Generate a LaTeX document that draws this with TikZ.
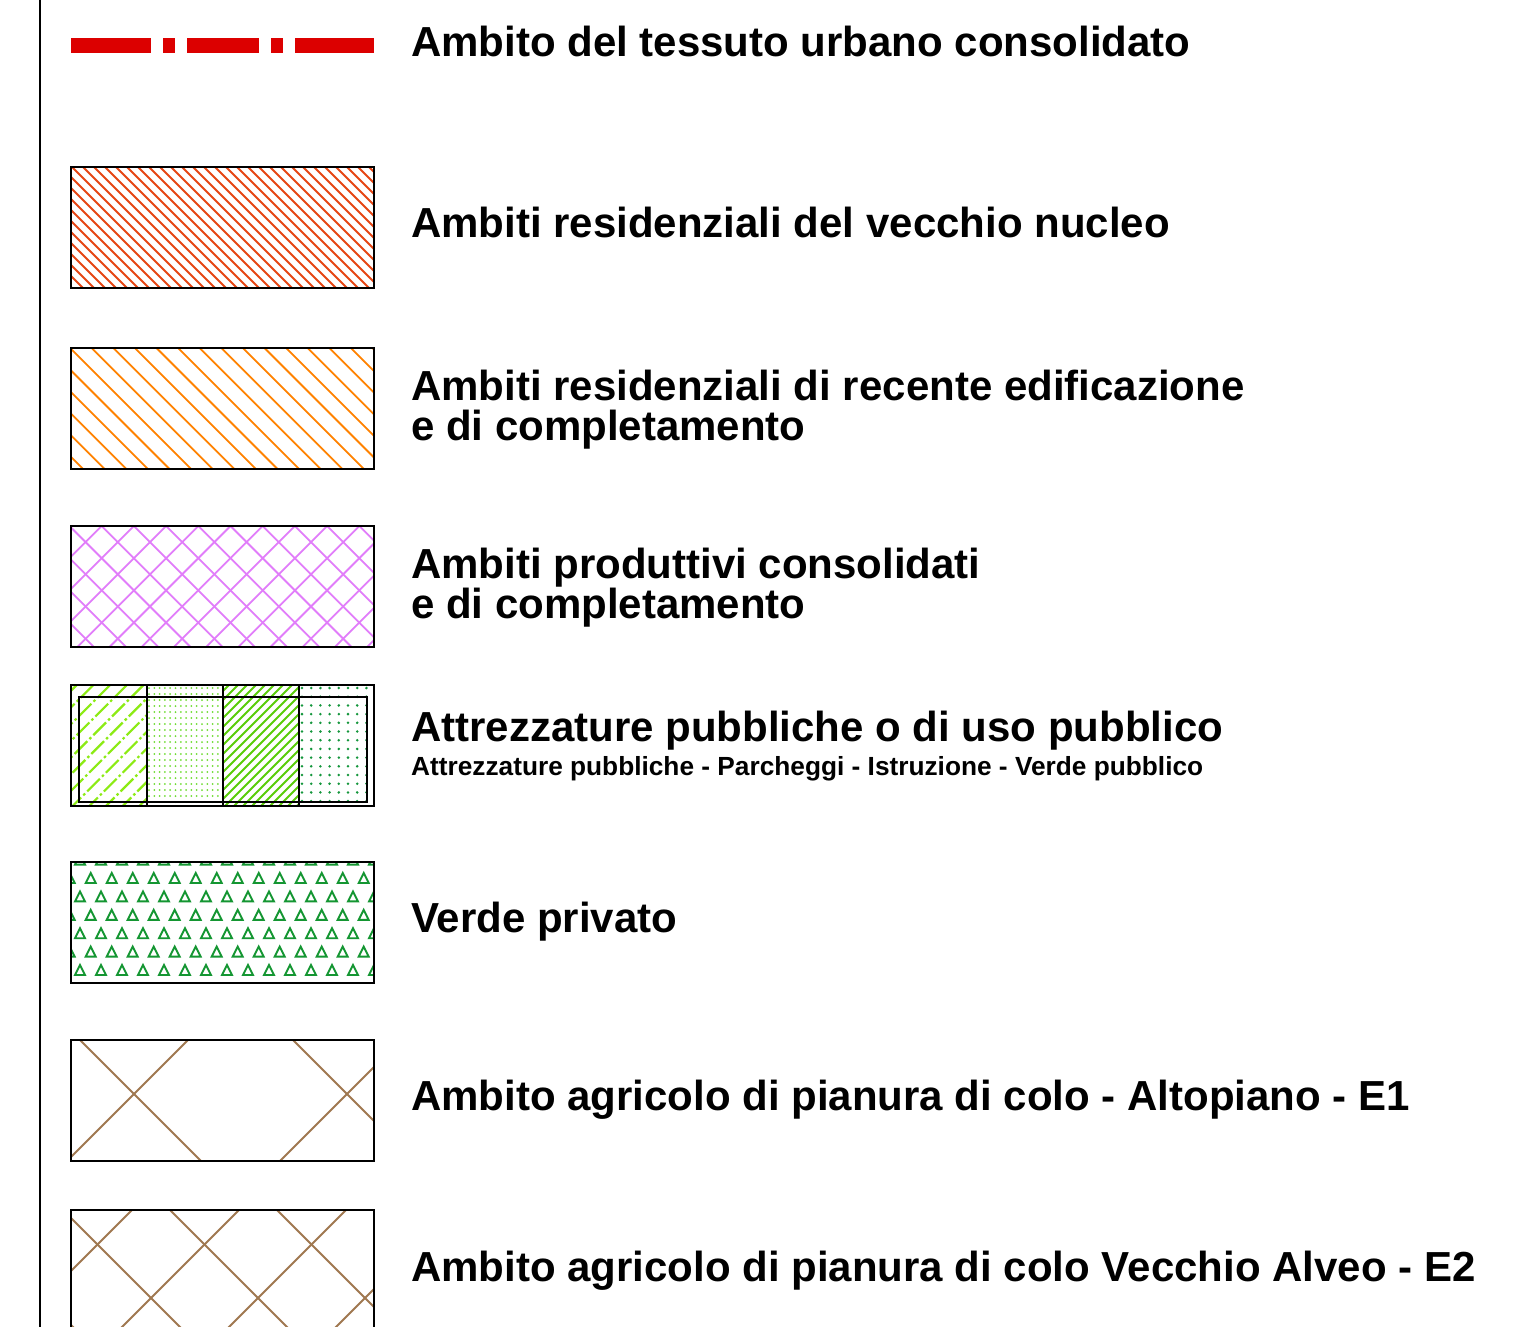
\documentclass[tikz,border=0pt]{standalone}
\usepackage{fontspec}
\setmainfont{Liberation Sans}
\pgfdeclarelayer{bg}
\pgfsetlayers{bg,main}
\definecolor{lred}{RGB}{220,0,0}
\definecolor{hatchA}{RGB}{230,70,20}
\definecolor{hatchB}{RGB}{255,130,0}
\definecolor{hatchC}{RGB}{225,125,250}
\definecolor{lgA}{RGB}{140,235,20}
\definecolor{lgB}{RGB}{110,220,50}
\definecolor{lgC}{RGB}{90,205,10}
\definecolor{dgD}{RGB}{20,150,60}
\definecolor{triG}{RGB}{20,150,50}
\definecolor{brn}{RGB}{160,120,80}
\begin{document}
\begin{tikzpicture}[x=1pt,y=-1pt,
  legbox/.style={draw=black,line width=2pt,minimum width=303pt,minimum height=121pt,inner sep=0pt,outer sep=0pt},
  lab/.style={font=\fontsize{42}{48}\selectfont\bfseries,anchor=base west,inner sep=0pt},
  sublab/.style={font=\fontsize{26.25}{30}\selectfont\bfseries,anchor=base west,inner sep=0pt},
  hatchline/.style={line width=1.8pt},
  frame/.style={line width=2.5pt,black}]
\useasboundingbox (0,0) rectangle (1521,1327);
\clip (0,0) rectangle (1521,1327);
\begin{pgfonlayer}{bg}
\fill[white] (0,0) rectangle (1521,1327);
\end{pgfonlayer}
\draw[frame] (40,0) -- (40,1327);

% red dash-dot line
\fill[lred] (71,38.5) rectangle (151,53.3);
\fill[lred] (163,38.5) rectangle (175,53.3);
\fill[lred] (187,38.5) rectangle (259,53.3);
\fill[lred] (271,38.5) rectangle (283,53.3);
\fill[lred] (295,38.5) rectangle (374,53.3);
\node[lab] (t1) at (411,56.5) {Ambito del tessuto urbano consolidato};

% box 1
\node[legbox] (b1) at (222.5,227.5) {};
\begin{pgfonlayer}{bg}
\begin{scope}
\clip (b1.north west) rectangle (b1.south east);
\foreach \c in {-60,-49,...,380} \draw[hatchline,hatchA] (\c,167) -- ++(300,300);
\end{scope}
\end{pgfonlayer}
\node[lab] (t2) at (411,237) {Ambiti residenziali del vecchio nucleo};

% box 2
\node[legbox] (b2) at (222.5,408.5) {};
\begin{pgfonlayer}{bg}
\begin{scope}
\clip (b2.north west) rectangle (b2.south east);
\foreach \c in {-59.5,-37.9,...,380} \draw[hatchline,hatchB] (\c,348) -- ++(300,300);
\end{scope}
\end{pgfonlayer}
\node[lab] (t3a) at (411,400) {Ambiti residenziali di recente edificazione};
\node[lab] (t3b) at (411,440) {e di completamento};

% box 3
\node[legbox] (b3) at (222.5,586.5) {};
\begin{pgfonlayer}{bg}
\begin{scope}
\clip (b3.north west) rectangle (b3.south east);
\foreach \c in {-91.5,-59.3,...,380} \draw[hatchline,hatchC] (\c,526) -- ++(300,300);
\foreach \d in {37.3,69.5,...,540} \draw[hatchline,hatchC] (\d,526) -- ++(-300,300);
\end{scope}
\end{pgfonlayer}
\node[lab] (t4a) at (411,578) {Ambiti produttivi consolidati};
\node[lab] (t4b) at (411,618) {e di completamento};

% box 4
\node[legbox] (b4) at (222.5,745.5) {};
\begin{pgfonlayer}{bg}
\begin{scope}
\clip (71,685) rectangle (147,806);
\foreach \d in {60,76.7,...,300} \draw[line width=2.2pt,lgA,dash pattern=on 18pt off 3pt on 2.5pt off 3pt] (\d,685) -- ++(-200,200);
\end{scope}
\foreach \x in {149,154.3,...,222} \foreach \y in {688,694,...,805} \fill[lgB] (\x,\y) circle (1.0);
\begin{scope}
\clip (223,685) rectangle (299,806);
\foreach \d in {220,229,...,440} \draw[hatchline,lgC] (\d,685) -- ++(-200,200);
\end{scope}
\foreach \x in {302,311.2,...,373} \foreach \y in {688,696.7,...,805} \fill[dgD] (\x,\y) circle (1.4);
\end{pgfonlayer}
\draw[line width=2pt] (79,697) rectangle (367,802);
\foreach \xx in {147,223,299} \draw[line width=1.5pt] (\xx,685) -- (\xx,806);
\node[lab] (t5a) at (411,741) {Attrezzature pubbliche o di uso pubblico};
\node[sublab] (t5b) at (411,775) {Attrezzature pubbliche - Parcheggi - Istruzione - Verde pubblico};

% box 5
\node[legbox] (b5) at (222.5,922.5) {};
\begin{pgfonlayer}{bg}
\begin{scope}
\clip (b5.north west) rectangle (b5.south east);
\foreach \r in {0,...,6} {
  \pgfmathsetmacro{\yb}{864.6+18.4*\r}
  \pgfmathsetmacro{\xo}{mod(\r,2)==0 ? 80 : 90.7}
  \foreach \k in {-1,...,14} {
    \pgfmathsetmacro{\xc}{\xo+21*\k}
    \draw[line width=1.9pt,triG,line join=miter] (\xc-5,\yb) -- (\xc,\yb-10) -- (\xc+5,\yb) -- cycle;
  }
}
\end{scope}
\end{pgfonlayer}
\node[lab] (t6) at (411,932) {Verde privato};

% box 6
\node[legbox] (b6) at (222.5,1100.5) {};
\begin{pgfonlayer}{bg}
\begin{scope}
\clip (b6.north west) rectangle (b6.south east);
\foreach \c in {-133,80,293,506} \draw[hatchline,brn] (\c,1040) -- ++(300,300);
\foreach \d in {-25,188,401,614} \draw[hatchline,brn] (\d,1040) -- ++(-300,300);
\end{scope}
\end{pgfonlayer}
\node[lab] (t7) at (411,1110) {Ambito agricolo di pianura di colo - Altopiano - E1};

% box 7
\node[legbox] (b7) at (222.5,1270.5) {};
\begin{pgfonlayer}{bg}
\begin{scope}
\clip (b7.north west) rectangle (b7.south east);
\foreach \c in {-151,-44,63,170,277,384} \draw[hatchline,brn] (\c,1210) -- ++(300,300);
\foreach \d in {25,132,239,346,453,560} \draw[hatchline,brn] (\d,1210) -- ++(-300,300);
\end{scope}
\end{pgfonlayer}
\node[lab] (t8) at (411,1281) {Ambito agricolo di pianura di colo Vecchio Alveo - E2};
\end{tikzpicture}
\end{document}
